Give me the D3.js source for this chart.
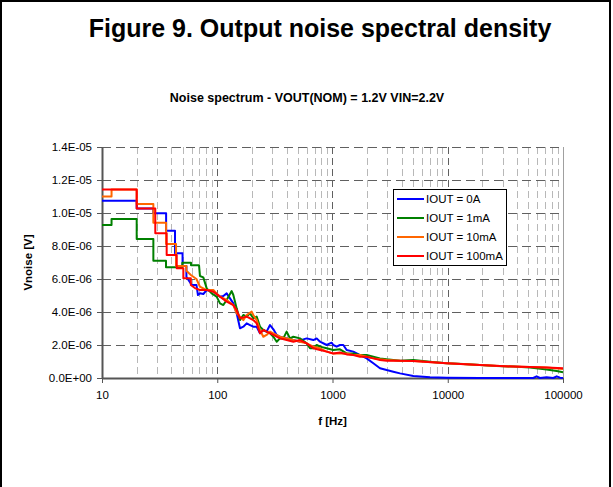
<!DOCTYPE html>
<html>
<head>
<meta charset="utf-8">
<script src="https://cdn.jsdelivr.net/npm/d3@7"></script>
<style>
  body { margin: 0; background: #fff; }
  svg text { font-family: Arial, "Liberation Sans", sans-serif; }
</style>
</head>
<body>
<script>
// values, [frequency Hz, noise V]
var iout0A = [[10,1.075e-5],[20,1.075e-5],[20,1.028e-5],[27.9,1.028e-5],[27.9,9.98e-6],[36,9.98e-6],[36,8.93e-6],[43,8.93e-6],[43,7.56e-6],[50,7.56e-6],[50,6.79e-6],[54,6.79e-6],[54,6.14e-6],[60,5.64e-6],[66,5.64e-6],[68,5.03e-6],[70.8,5.13e-6],[75.7,5.09e-6],[81,5.33e-6],[92.5,5.27e-6],[105.6,4.93e-6],[112.9,4.97e-6],[120.7,5.13e-6],[137.9,4.52e-6],[147.4,3.92e-6],[157.5,3.01e-6],[168.4,3.11e-6],[180,3.31e-6],[192.4,3.21e-6],[205.6,3.11e-6],[219.8,3.11e-6],[234.9,2.71e-6],[251,2.91e-6],[268,2.81e-6],[287,3.21e-6],[307,2.95e-6],[328,2.61e-6],[350,2.5e-6],[400,2.4e-6],[457,2.3e-6],[522,2.2e-6],[558,2.34e-6],[597,2.4e-6],[682,2.3e-6],[729,2.4e-6],[779,2.2e-6],[890,2.0e-6],[951,2.1e-6],[983,2.14e-6],[1016,2.0e-6],[1086,1.9e-6],[1161,2.0e-6],[1241,2.0e-6],[1327,1.7e-6],[1516,1.6e-6],[1732,1.39e-6],[1979,1.19e-6],[2261,8.9e-7],[2582,5.9e-7],[2950,4.8e-7],[3371,3.8e-7],[3851,2.8e-7],[5028,1.2e-7],[7015,4e-8],[9778,2e-8],[19020,5e-9],[37030,0],[55200,0],[59000,1e-7],[63100,0],[72100,4e-8],[82400,0],[88100,1e-7],[94200,2e-8],[100000,0]];

var iout1mA = [[10,9.27e-6],[12.1,9.27e-6],[12.1,9.64e-6],[20,9.64e-6],[20,8.42e-6],[27.9,8.42e-6],[27.9,7.11e-6],[35.9,7.11e-6],[35.9,6.71e-6],[49.8,6.71e-6],[49.8,6.99e-6],[59.2,6.99e-6],[59.2,6.83e-6],[69.5,6.83e-6],[70.8,6.18e-6],[75.7,6.1e-6],[81,5.43e-6],[89.4,5.13e-6],[98.8,4.93e-6],[105.6,4.52e-6],[112.9,4.42e-6],[120.7,4.73e-6],[133.4,5.27e-6],[137.9,5.03e-6],[147.4,4.22e-6],[157.5,3.51e-6],[168.4,3.82e-6],[180,3.72e-6],[192.4,3.92e-6],[205.6,3.62e-6],[219.8,3.72e-6],[234.9,3.11e-6],[251,2.91e-6],[268,2.81e-6],[287,2.71e-6],[307,2.5e-6],[328,2.2e-6],[350,2.4e-6],[374.5,2.4e-6],[400,2.81e-6],[428,2.4e-6],[457,2.5e-6],[522,2.4e-6],[597,2.1e-6],[638,1.8e-6],[682,1.8e-6],[729,2.0e-6],[779,1.9e-6],[890,1.8e-6],[1016,1.7e-6],[1161,1.74e-6],[1327,1.49e-6],[1516,1.49e-6],[1732,1.39e-6],[1979,1.39e-6],[2261,1.29e-6],[2582,1.19e-6],[2950,1.13e-6],[3371,1.09e-6],[3851,1.05e-6],[5028,1.09e-6],[7015,9.9e-7],[9778,8.9e-7],[13640,8.5e-7],[19020,7.9e-7],[26530,7.3e-7],[37030,6.9e-7],[51620,6.3e-7],[72100,5.2e-7],[88100,4.2e-7],[100000,3.5e-7]];

var iout10mA = [[10,1.10e-5],[12.1,1.10e-5],[12.1,1.143e-5],[20,1.143e-5],[20,1.054e-5],[27.9,1.054e-5],[27.9,9.41e-6],[36,9.41e-6],[36,8.12e-6],[43.9,8.12e-6],[43.9,6.79e-6],[54,6.79e-6],[54,6.5e-6],[59,6.24e-6],[66,6.0e-6],[70.8,5.53e-6],[81,5.33e-6],[92.5,5.33e-6],[98.8,5.13e-6],[105.6,4.93e-6],[120.7,4.73e-6],[137.9,4.42e-6],[147.4,3.92e-6],[157.5,3.72e-6],[168.4,3.51e-6],[180,3.82e-6],[199,4.02e-6],[205.6,3.82e-6],[219.8,3.51e-6],[234.9,2.91e-6],[251,2.5e-6],[268,2.61e-6],[287,2.81e-6],[307,2.71e-6],[350,2.5e-6],[400,2.4e-6],[457,2.3e-6],[522,2.2e-6],[597,2.1e-6],[682,1.9e-6],[779,1.8e-6],[890,1.6e-6],[1016,1.49e-6],[1327,1.49e-6],[1516,1.39e-6],[1732,1.39e-6],[1979,1.29e-6],[2261,1.19e-6],[2582,1.13e-6],[2950,1.09e-6],[3851,1.05e-6],[5028,1.03e-6],[9778,8.9e-7],[19020,7.9e-7],[37030,6.9e-7],[72100,6.3e-7],[100000,5.5e-7]];

var iout100mA = [[10,1.143e-5],[20,1.143e-5],[20,1.028e-5],[29,1.028e-5],[29,8.77e-6],[36.4,8.77e-6],[36.4,7.45e-6],[44.5,7.45e-6],[44.5,6.65e-6],[50.8,6.65e-6],[50.8,6.04e-6],[59,6.04e-6],[59,5.64e-6],[64,5.45e-6],[70.8,5.33e-6],[81,5.33e-6],[92.5,5.23e-6],[105.6,4.93e-6],[120.7,4.63e-6],[137.9,4.42e-6],[147.4,4.12e-6],[157.5,3.62e-6],[180,3.72e-6],[192.4,3.62e-6],[205.6,3.51e-6],[219.8,3.31e-6],[234.9,2.71e-6],[251,2.91e-6],[268,2.81e-6],[307,2.61e-6],[350,2.4e-6],[400,2.3e-6],[457,2.2e-6],[522,2.3e-6],[597,2.1e-6],[682,1.8e-6],[779,1.7e-6],[890,1.6e-6],[1016,1.49e-6],[1161,1.54e-6],[1327,1.43e-6],[1516,1.39e-6],[1732,1.29e-6],[1979,1.29e-6],[2261,1.19e-6],[2582,1.09e-6],[2950,1.05e-6],[3851,1.05e-6],[5028,1.03e-6],[9778,8.9e-7],[19020,7.9e-7],[37030,6.9e-7],[72100,6.3e-7],[100000,5.9e-7]];

var seriesNames = ["IOUT = 0A", "IOUT = 1mA", "IOUT = 10mA", "IOUT = 100mA"];
var seriesColors = ["#0000ff", "#008000", "#ff6600", "#ff0000"];
var yTicks = [0, 2e-6, 4e-6, 6e-6, 8e-6, 1e-5, 1.2e-5, 1.4e-5];
var yTickLabels = ["0.0E+00", "2.0E-06", "4.0E-06", "6.0E-06", "8.0E-06", "1.0E-05", "1.2E-05", "1.4E-05"];
var xTicks = [10, 100, 1000, 10000, 100000];

var W = 613, H = 487;
var plotL = 102, plotR = 563, plotT = 147, plotB = 378;

var svg = d3.select("body").append("svg")
	.attr("width", W)
	.attr("height", H);

// page frame
svg.append("path")
	.attr("d", "M1,490V1H610V490")
	.attr("fill", "none")
	.attr("stroke", "#000")
	.attr("stroke-width", 2);

svg.append("text")
	.attr("x", 320).attr("y", 37)
	.attr("text-anchor", "middle")
	.attr("font-size", 25).attr("font-weight", "bold")
	.text("Figure 9. Output noise spectral density");

svg.append("text")
	.attr("x", 307).attr("y", 102)
	.attr("text-anchor", "middle")
	.attr("font-size", 12.5).attr("font-weight", "bold")
	.text("Noise spectrum - VOUT(NOM) = 1.2V VIN=2.2V");

var x = d3.scaleLog().domain([10, 100000]).range([plotL, plotR]);
var y = d3.scaleLinear().domain([0, 1.4e-5]).range([plotB, plotT]);

// vertical grid: minor then major
var minor = [];
for (var d = 10; d < 100000; d *= 10)
	for (var k = 2; k <= 9; k++) minor.push(d * k);

svg.append("g").selectAll("line")
	.data(minor)
	.enter().append("line")
	.attr("x1", function(d) { return Math.round(x(d)) + 0.5; })
	.attr("x2", function(d) { return Math.round(x(d)) + 0.5; })
	.attr("y1", plotT).attr("y2", plotB)
	.attr("stroke", "#b8b8b8")
	.attr("stroke-dasharray", "7,4");

svg.append("g").selectAll("line")
	.data(xTicks.slice(1, 4))
	.enter().append("line")
	.attr("x1", function(d) { return Math.round(x(d)) + 0.5; })
	.attr("x2", function(d) { return Math.round(x(d)) + 0.5; })
	.attr("y1", plotT).attr("y2", plotB)
	.attr("stroke", "#606060")
	.attr("stroke-dasharray", "7,4");

// horizontal grid
svg.append("g").selectAll("line")
	.data(yTicks.slice(1))
	.enter().append("line")
	.attr("x1", plotL).attr("x2", plotR)
	.attr("y1", function(d) { return Math.round(y(d)) + 0.5; })
	.attr("y2", function(d) { return Math.round(y(d)) + 0.5; })
	.attr("stroke", "#606060")
	.attr("stroke-dasharray", "9,5");

// right border of plot
svg.append("line")
	.attr("x1", plotR + 0.5).attr("x2", plotR + 0.5)
	.attr("y1", plotT).attr("y2", plotB)
	.attr("stroke", "#a0a0a0");

// axes
var yAxis = d3.axisLeft(y)
	.tickValues(yTicks)
	.tickFormat(function(d, i) { return yTickLabels[i]; })
	.tickSize(5).tickSizeOuter(0).tickPadding(5);
var gy = svg.append("g").attr("transform", "translate(" + plotL + ",0)").call(yAxis);

var xAxis = d3.axisBottom(x)
	.tickValues(xTicks)
	.tickFormat(d3.format("d"))
	.tickSize(5).tickSizeOuter(0).tickPadding(8);
var gx = svg.append("g").attr("transform", "translate(0," + plotB + ")").call(xAxis);

[gx, gy].forEach(function(g) {
	g.select(".domain").attr("stroke", "#555").attr("stroke-width", 2);
	g.selectAll(".tick line").attr("stroke", "#555");
	g.selectAll(".tick text").attr("font-size", 11.5).attr("fill", "#000")
		.attr("font-family", "Arial, 'Liberation Sans', sans-serif");
});

// series
var line = d3.line()
	.x(function(d) { return x(d[0]); })
	.y(function(d) { return y(d[1]); });

var seriesData = [iout0A, iout1mA, iout10mA, iout100mA];
svg.append("g").selectAll("path")
	.data(seriesData)
	.enter().append("path")
	.attr("d", line)
	.attr("fill", "none")
	.attr("stroke", function(d, i) { return seriesColors[i]; })
	.attr("stroke-width", 2)
	.attr("stroke-linejoin", "round");

// axis titles
svg.append("text")
	.attr("transform", "translate(32," + ((plotT + plotB) / 2) + ") rotate(-90)")
	.attr("text-anchor", "middle")
	.attr("font-size", 11.5).attr("font-weight", "bold")
	.text("Vnoise [V]");

svg.append("text")
	.attr("x", (plotL + plotR) / 2).attr("y", 425)
	.attr("text-anchor", "middle")
	.attr("font-size", 11.5).attr("font-weight", "bold")
	.text("f [Hz]");

// legend
var legend = svg.append("g").attr("transform", "translate(393,189)");
legend.append("rect")
	.attr("x", 0.5).attr("y", 0.5)
	.attr("width", 113).attr("height", 76)
	.attr("fill", "#fff").attr("stroke", "#000");

var item = legend.selectAll("g.item")
	.data(seriesNames)
	.enter().append("g").attr("class", "item")
	.attr("transform", function(d, i) { return "translate(0," + (10 + i * 19) + ")"; });

item.append("line")
	.attr("x1", 4).attr("x2", 31)
	.attr("stroke", function(d, i) { return seriesColors[i]; })
	.attr("stroke-width", 2);

item.append("text")
	.attr("x", 33).attr("y", 4)
	.attr("font-size", 11.5)
	.text(function(d) { return d; });
</script>
</body>
</html>
